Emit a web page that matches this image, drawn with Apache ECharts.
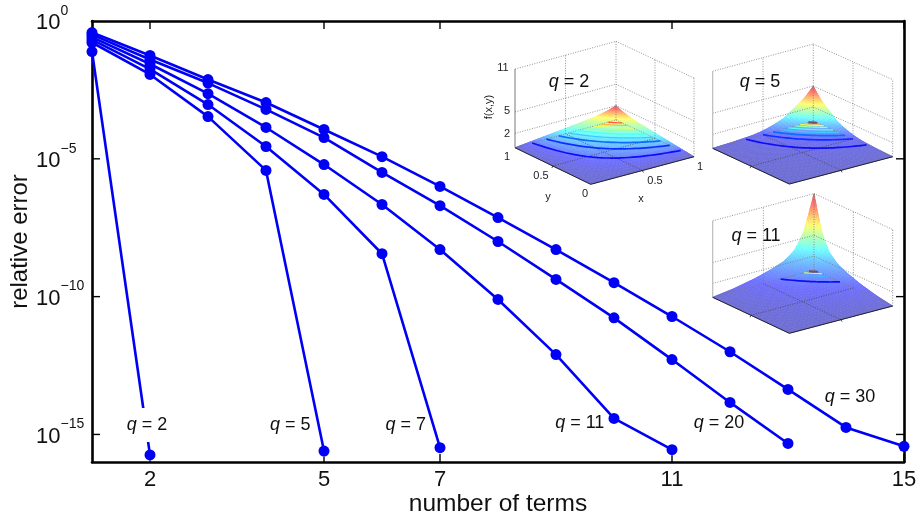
<!DOCTYPE html>
<html>
<head>
<meta charset="utf-8">
<style>html,body{margin:0;padding:0;background:#fff}#c{width:922px;height:520px}</style>
<script src="https://cdn.jsdelivr.net/npm/echarts@6/dist/echarts.min.js"></script>
</head>
<body>
<div id="c"></div>
<script>
// ---- main chart data ----
const xMin = 1, xMax = 15, yMin = 1e-16, yMax = 1;
const xTicks = [2, 5, 7, 11, 15];
const yTicks = [1, 1e-5, 1e-10, 1e-15];
const q2 = [[1, 7.8e-2], [2, 1.8e-16]];
const q5 = [[1, 1.66e-1], [2, 1.15e-2], [3, 3.4e-4], [4, 3.8e-6], [5, 2.5e-16]];
const q7 = [[1, 2.1e-1], [2, 1.8e-2], [3, 9.3e-4], [4, 2.8e-5], [5, 5.1e-7], [6, 3.6e-9], [7, 3.3e-16]];
const q11 = [[1, 2.6e-1], [2, 2.75e-2], [3, 2.3e-3], [4, 1.37e-4], [5, 6.2e-6], [6, 2.2e-7], [7, 5.1e-9], [8, 7.9e-11], [9, 7.9e-13], [10, 3.8e-15], [11, 2.8e-16]];
const q20 = [[1, 3.2e-1], [2, 4.0e-2], [3, 5.6e-3], [4, 6.2e-4], [5, 5.9e-5], [6, 3.2e-6], [7, 2.0e-7], [8, 1.0e-8], [9, 4.2e-10], [10, 1.7e-11], [11, 5.2e-13], [12, 1.45e-14], [13, 4.7e-16]];
const q30 = [[1, 3.8e-1], [2, 5.6e-2], [3, 7.5e-3], [4, 1.1e-3], [5, 1.16e-4], [6, 1.2e-5], [7, 1.0e-6], [8, 7.4e-8], [9, 5.1e-9], [10, 3.2e-10], [11, 1.9e-11], [12, 1.0e-12], [13, 4.3e-14], [14, 1.8e-15], [15, 3.7e-16]];
const curves = [q2, q5, q7, q11, q20, q30];
const curveLabels = [
  ['2', 1.95, 2.2e-15], ['5', 4.42, 2.2e-15], ['7', 6.41, 2.2e-15],
  ['11', 9.41, 2.5e-15], ['20', 11.81, 2.5e-15], ['30', 14.07, 2.3e-14]
];

// ---- inset surfaces: height read along the edge, as a function of xy ----
const edgeT = [0, 0.2, 0.4, 0.5, 0.6, 0.7, 0.8, 0.85, 0.9, 0.95, 1];
const edgeQ2 = [0, 0.3, 0.6, 0.75, 0.9, 1.05, 1.25, 1.4, 1.55, 1.75, 2];
const edgeQ5 = [0, 0.1, 0.3, 0.55, 0.95, 1.5, 2.5, 3, 3.5, 4.2, 5];
const edgeQ11 = [0, 0.4, 1.0, 1.4, 1.85, 2.4, 3.5, 4.6, 6, 8.4, 11];
const levelsQ2 = [0.17, 0.31, 0.43, 0.53, 0.62, 0.70, 0.78, 0.85, 0.92];
const levelsQ5 = [0.33, 0.5, 0.6, 0.68, 0.75, 0.82, 0.87, 0.91, 0.95];
const levelsQ11 = [0.67, 0.82, 0.9, 0.95];
const insetLabels = ['q = 2', 'q = 5', 'q = 11'];

const FONT = '"Liberation Sans", Arial, sans-serif';
const BLUE = '#0000f5';
const MARKER = 11;

// ---- inset helpers ----
function clamp(v) { return Math.max(0, Math.min(1, v)); }
function jet(v, alpha) {
  const r = clamp(1.5 - Math.abs(4 * v - 3));
  const g = clamp(1.5 - Math.abs(4 * v - 2));
  const b = clamp(1.5 - Math.abs(4 * v - 1));
  const mix = c => Math.round(255 * (1 - alpha) + 255 * c * alpha);
  return 'rgb(' + mix(r) + ',' + mix(g) + ',' + mix(b) + ')';
}
function edgeHeight(edge, t) {
  for (let i = 1; i < edgeT.length; i++) {
    if (t <= edgeT[i]) {
      const f = (t - edgeT[i - 1]) / (edgeT[i] - edgeT[i - 1]);
      return edge[i - 1] + f * (edge[i] - edge[i - 1]);
    }
  }
  return edge[edge.length - 1];
}
function makeInset(box, edge, levels, label, first) {
  const out = [];
  const P = (x, y, z) => {
    const a = box.front, b = box.right, c = box.left, d = box.back;
    const px = (1 - x) * (1 - y) * a[0] + x * (1 - y) * b[0] + (1 - x) * y * c[0] + x * y * d[0];
    const py = (1 - x) * (1 - y) * a[1] + x * (1 - y) * b[1] + (1 - x) * y * c[1] + x * y * d[1];
    return [px, py - z * box.k];
  };
  const zMax = edge[edge.length - 1];
  const N = 34;
  const warp = i => 1 - Math.pow(1 - i / N, 1.7);
  for (let i = N - 1; i >= 0; i--) {
    for (let j = N - 1; j >= 0; j--) {
      const x0 = warp(i), x1 = warp(i + 1), y0 = warp(j), y1 = warp(j + 1);
      const h = (x, y) => edgeHeight(edge, x * y);
      const zc = h((x0 + x1) / 2, (y0 + y1) / 2);
      const col = jet(0.05 + 0.95 * zc / zMax, 0.57);
      out.push({
        type: 'polygon', silent: true, z: 10,
        shape: { points: [P(x0, y0, h(x0, y0)), P(x1, y0, h(x1, y0)), P(x1, y1, h(x1, y1)), P(x0, y1, h(x0, y1))] },
        style: { fill: col, stroke: col, lineWidth: 0.6 }
      });
    }
  }
  const line = (a, b, stroke, width, dash) => out.push({
    type: 'polyline', silent: true, z: 11,
    shape: { points: [a, b] },
    style: { stroke: stroke, lineWidth: width, lineDash: dash || null, fill: null }
  });
  const dots = [1, 1.5];
  const grey = '#777';
  // walls: height lines
  [2, 5, 11].forEach(z => {
    line(P(0, 1, z), P(1, 1, z), grey, 0.8, dots);
    line(P(1, 1, z), P(1, 0, z), grey, 0.8, dots);
  });
  line(P(1, 1, 0), P(1, 1, 11), grey, 0.8, dots);
  line(P(1, 0, 0), P(1, 0, 11), grey, 0.8, dots);
  line(P(0.5, 1, 0), P(0.5, 1, 11), grey, 0.8, dots);
  line(P(1, 0.5, 0), P(1, 0.5, 11), grey, 0.8, dots);
  // floor
  line(P(0.5, 0, 0), P(0.5, 1, 0), '#444', 0.8, dots);
  line(P(0, 0.5, 0), P(1, 0.5, 0), '#444', 0.8, dots);
  line(P(0, 1, 0), P(1, 1, 0), grey, 0.8, dots);
  line(P(1, 1, 0), P(1, 0, 0), grey, 0.8, dots);
  // contours on the floor
  levels.forEach((c, n) => {
    const pts = [];
    for (let s = 0; s <= 30; s++) {
      const x = c + (1 - c) * s / 30;
      pts.push(P(x, c / x, 0));
    }
    const f = n / (levels.length - 1);
    const v = 0.12 + 0.72 * Math.pow(f, 1.4);
    const capped = !first && n === levels.length - 1;
    out.push({
      type: 'polyline', silent: true, z: 12,
      shape: { points: pts },
      style: {
        stroke: capped ? 'rgb(115,80,90)' : jet(v, f < 0.3 ? 0.95 : 0.75),
        lineWidth: f < 0.3 ? 1.7 : (capped ? 2.2 : 1.2), fill: null
      }
    });
  });
  // frame
  line(P(0, 1, 0), P(0, 1, 11), first ? '#555' : '#bbb', first ? 0.8 : 1.2);
  line(P(0, 1, 0), P(0, 0, 0), '#222', 1);
  line(P(0, 0, 0), P(1, 0, 0), '#222', 1);
  const a = P(0.5, 0, 0); line(a, [a[0] + 1, a[1] + 2], '#222', 0.8);
  const b = P(0, 0.5, 0); line(b, [b[0] - 1, b[1] + 2], '#222', 0.8);
  // title
  const title = label.split(' = ');
  out.push({
    type: 'text', silent: true, z: 13, x: box.title[0], y: box.title[1],
    style: {
      text: '{i|' + title[0] + '}{n| = ' + title[1] + '}',
      align: 'center', verticalAlign: 'middle',
      rich: {
        i: { fontFamily: FONT, fontSize: 18, fontStyle: 'italic', fill: '#111' },
        n: { fontFamily: FONT, fontSize: 18, fill: '#111' }
      }
    }
  });
  return out;
}
function smallText(text, x, y, rotation) {
  return {
    type: 'text', silent: true, z: 13, x: x, y: y, rotation: rotation || 0,
    style: { text: text, fontFamily: FONT, fontSize: 11, fill: '#222', align: 'center', verticalAlign: 'middle' }
  };
}
const graphics = [].concat(
  makeInset({ left: [515, 147.7], front: [590.7, 184.3], right: [694, 156.7], back: [616, 120], k: 7.15, title: [569, 82] }, edgeQ2, levelsQ2, insetLabels[0], true),
  makeInset({ left: [712.7, 148.3], front: [789.3, 184], right: [892.7, 156.7], back: [813.3, 121], k: 7.0, title: [760, 82] }, edgeQ5, levelsQ5, insetLabels[1], false),
  makeInset({ left: [712.7, 297.3], front: [789.3, 333.3], right: [892.7, 306], back: [814, 270], k: 6.95, title: [756, 236] }, edgeQ11, levelsQ11, insetLabels[2], false),
  [
    smallText('11', 503, 68), smallText('5', 507, 111), smallText('2', 507, 134),
    smallText('1', 507, 157), smallText('0.5', 541, 176), smallText('0', 585, 194),
    smallText('0.5', 655, 181), smallText('1', 700, 167),
    smallText('y', 548, 197), smallText('x', 641, 199),
    smallText('f(x,y)', 489, 107, Math.PI / 2)
  ]
);

const axisLine = { show: true, onZero: false, lineStyle: { color: '#000', width: 2.6 } };

const chart = echarts.init(document.getElementById('c'));
chart.setOption({
  animation: false,
  grid: { left: 92, top: 21, width: 812, height: 441, outerBoundsMode: 'none' },
  xAxis: [{
    type: 'value', min: xMin, max: xMax, position: 'bottom',
    name: 'number of terms', nameLocation: 'middle', nameGap: 30, nameMoveOverlap: false,
    nameTextStyle: { fontFamily: FONT, fontSize: 24.5, color: '#111' },
    axisLine: axisLine,
    axisTick: { show: false },
    axisLabel: { customValues: xTicks, fontFamily: FONT, fontSize: 22, color: '#111', margin: 7 },
    splitLine: { show: false }
  }, {
    type: 'value', min: xMin, max: xMax, position: 'top',
    axisLine: axisLine,
    axisTick: { show: false },
    axisLabel: { show: false },
    splitLine: { show: false }
  }],
  yAxis: [{
    type: 'log', logBase: 10, min: yMin, max: yMax, position: 'left',
    name: 'relative error', nameLocation: 'middle', nameGap: 60, nameMoveOverlap: false,
    nameTextStyle: { fontFamily: FONT, fontSize: 24, color: '#111' },
    axisLine: axisLine,
    axisTick: { show: false },
    axisLabel: {
      customValues: yTicks, margin: 56, align: 'left', color: '#111', padding: [4, 0, 0, 0],
      formatter: v => {
        const e = Math.round(Math.log10(v));
        return '{b|10}{s|' + (e === 0 ? '0' : '−' + (-e)) + '}';
      },
      rich: {
        b: { fontFamily: FONT, fontSize: 22, color: '#111', lineHeight: 26 },
        s: { fontFamily: FONT, fontSize: 14, color: '#111', padding: [0, 0, 24, 0], lineHeight: 14 }
      }
    },
    splitLine: { show: false }
  }, {
    type: 'log', logBase: 10, min: yMin, max: yMax, position: 'right',
    axisLine: axisLine,
    axisTick: { show: false },
    axisLabel: { show: false },
    splitLine: { show: false }
  }],
  series: curves.map(d => ({
    type: 'line', data: d, xAxisIndex: 0, yAxisIndex: 0, clip: false, z: 20,
    symbol: 'circle', symbolSize: MARKER, showSymbol: true, smooth: false,
    itemStyle: { color: BLUE, borderWidth: 0 },
    lineStyle: { color: BLUE, width: 2.6 }
  })).concat([{
    type: 'scatter', xAxisIndex: 0, yAxisIndex: 0, symbolSize: 0, z: 25,
    itemStyle: { opacity: 1 },
    data: curveLabels.map((l, i) => ({
      value: [l[1], l[2]],
      label: {
        show: true, position: 'inside', opacity: 1,
        formatter: '{i|q}{n| = ' + l[0] + '}',
        backgroundColor: i === 0 ? '#fff' : 'transparent',
        padding: i === 0 ? [8, 0] : 0,
        rich: {
          i: { fontFamily: FONT, fontSize: 18, fontStyle: 'italic', color: '#111' },
          n: { fontFamily: FONT, fontSize: 18, color: '#111' }
        }
      }
    }))
  }])
});

// tick marks on all four sides, positioned through the axes' own scales;
// a bottom tick stops where a curve's last marker sits on it
const TICK_LEN = 8;
const toPx = (x, y) => chart.convertToPixel({ xAxisIndex: 0, yAxisIndex: 0 }, [x, y]);
const tickMark = (from, dx, dy) => ({
  type: 'polyline', silent: true, z: 100,
  shape: { points: [from, [from[0] + dx, from[1] + dy]] },
  style: { stroke: '#000', lineWidth: 1.4, fill: null }
});
const bottomTick = x => {
  const base = toPx(x, yMin);
  let len = TICK_LEN;
  curves.forEach(c => c.forEach(p => {
    if (p[0] === x) {
      const gap = base[1] - (toPx(p[0], p[1])[1] + MARKER / 2);
      if (gap < len) len = Math.max(0, gap);
    }
  }));
  return tickMark(base, 0, -len);
};
const ticks = [].concat(
  xTicks.map(bottomTick),
  xTicks.map(x => tickMark(toPx(x, yMax), 0, TICK_LEN)),
  yTicks.slice(1).map(y => tickMark(toPx(xMin, y), TICK_LEN, 0)),
  yTicks.slice(1).map(y => tickMark(toPx(xMax, y), -TICK_LEN, 0))
);
chart.setOption({ graphic: graphics.concat(ticks) });
</script>
</body>
</html>
